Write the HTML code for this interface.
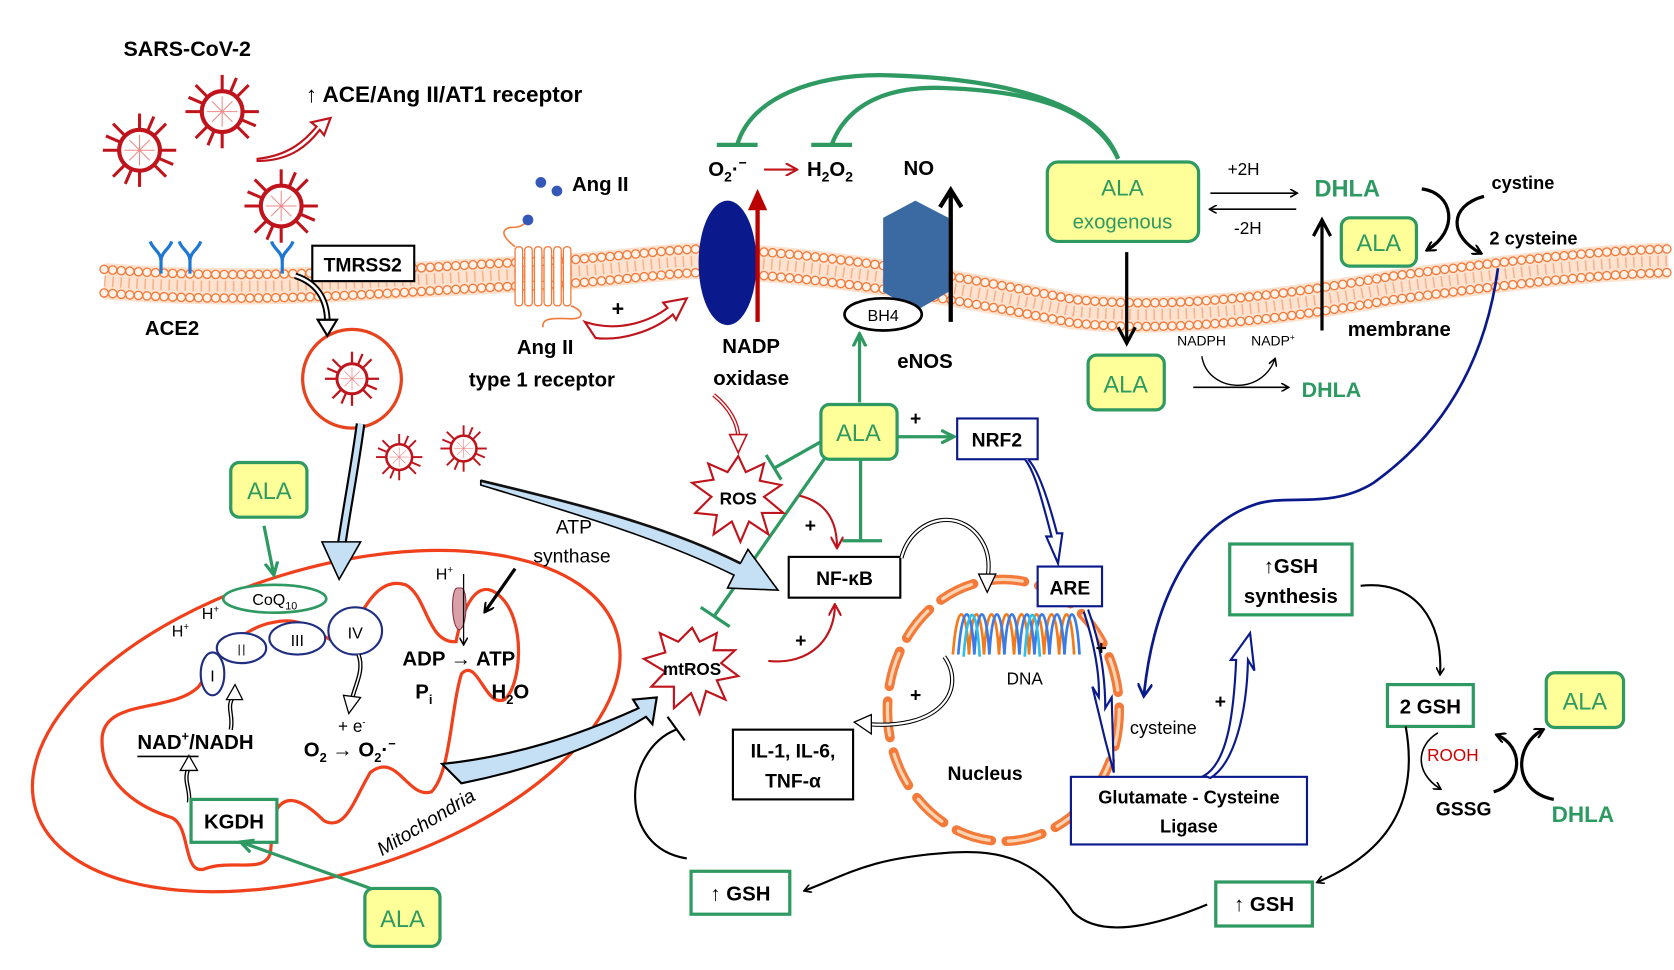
<!DOCTYPE html>
<html><head><meta charset="utf-8"><style>
html,body{margin:0;padding:0;background:#fff;}
svg{display:block;}
text{font-family:"Liberation Sans Narrow","Liberation Sans",sans-serif;}
.b{font-weight:bold;}
.g{fill:#2e9a62;font-weight:bold;}
</style></head><body>
<svg width="1674" height="970" viewBox="0 0 1560 904" xmlns="http://www.w3.org/2000/svg">
<defs>
<g id="vir">
<circle r="20" fill="#fff" stroke="#c0141c" stroke-width="4"/>
<g stroke="#c0141c" stroke-width="3">
<line x1="0" y1="-20" x2="0" y2="-36"/><line x1="0" y1="20" x2="0" y2="36"/>
<line x1="-20" y1="0" x2="-36" y2="0"/><line x1="20" y1="0" x2="36" y2="0"/>
<line x1="14" y1="14" x2="26" y2="26"/><line x1="-14" y1="-14" x2="-26" y2="-26"/>
<line x1="14" y1="-14" x2="26" y2="-26"/><line x1="-14" y1="14" x2="-26" y2="26"/>
<line x1="8" y1="-19" x2="14" y2="-33"/><line x1="-8" y1="19" x2="-14" y2="33"/>
<line x1="19" y1="8" x2="33" y2="14"/><line x1="-19" y1="-8" x2="-33" y2="-14"/>
</g>
<g stroke="#e88" stroke-width="1"><line x1="-15" y1="0" x2="15" y2="0"/><line x1="0" y1="-15" x2="0" y2="15"/><line x1="-10" y1="-10" x2="10" y2="10"/><line x1="-10" y1="10" x2="10" y2="-10"/></g>
</g>
<marker id="ab" markerWidth="10" markerHeight="10" refX="8" refY="5" orient="auto" markerUnits="userSpaceOnUse"><path d="M0,0 L9,5 L0,10" fill="none" stroke="#000" stroke-width="2"/></marker>
<marker id="abs" markerWidth="8" markerHeight="8" refX="6" refY="4" orient="auto" markerUnits="userSpaceOnUse"><path d="M0,0 L7,4 L0,8" fill="none" stroke="#000" stroke-width="1.5"/></marker>
<marker id="ag" markerWidth="14" markerHeight="14" refX="11" refY="7" orient="auto" markerUnits="userSpaceOnUse"><path d="M0,1 L12,7 L0,13" fill="none" stroke="#2e9a62" stroke-width="3"/></marker>
<marker id="ar" markerWidth="12" markerHeight="12" refX="10" refY="6" orient="auto" markerUnits="userSpaceOnUse"><path d="M0,0 L11,6 L0,12" fill="none" stroke="#c0141c" stroke-width="2"/></marker>
<marker id="abl" markerWidth="14" markerHeight="14" refX="11" refY="7" orient="auto" markerUnits="userSpaceOnUse"><path d="M0,0 L12,7 L0,14" fill="none" stroke="#0a1a8c" stroke-width="2.5"/></marker>
</defs>

<!-- membrane -->
<g fill="none">
<path d="M97,262 C250,275 400,258 500,255 C600,250 640,238 700,245 C800,252 900,270 1000,290 C1100,300 1200,285 1300,268 C1400,255 1480,245 1555,243" stroke="#fde2cf" stroke-width="34"/>
<path d="M97,262 C250,275 400,258 500,255 C600,250 640,238 700,245 C800,252 900,270 1000,290 C1100,300 1200,285 1300,268 C1400,255 1480,245 1555,243" stroke="#f5a070" stroke-width="10" stroke-dasharray="1.5 6" opacity="0.7"/>
<path d="M97,251 C250,264 400,247 500,244 C600,239 640,227 700,234 C800,241 900,259 1000,279 C1100,289 1200,274 1300,257 C1400,244 1480,234 1555,232" stroke="#f47a3a" stroke-width="9" stroke-linecap="round" stroke-dasharray="0 8"/>
<path d="M97,251 C250,264 400,247 500,244 C600,239 640,227 700,234 C800,241 900,259 1000,279 C1100,289 1200,274 1300,257 C1400,244 1480,234 1555,232" stroke="#fff3ea" stroke-width="6.5" stroke-linecap="round" stroke-dasharray="0 8"/>
<path d="M97,273 C250,286 400,269 500,266 C600,261 640,249 700,256 C800,263 900,281 1000,301 C1100,311 1200,296 1300,279 C1400,266 1480,256 1555,254" stroke="#f47a3a" stroke-width="9" stroke-linecap="round" stroke-dasharray="0 8"/>
<path d="M97,273 C250,286 400,269 500,266 C600,261 640,249 700,256 C800,263 900,281 1000,301 C1100,311 1200,296 1300,279 C1400,266 1480,256 1555,254" stroke="#fff3ea" stroke-width="6.5" stroke-linecap="round" stroke-dasharray="0 8"/>
</g>

<!-- viruses -->
<use href="#vir" transform="translate(130,140) scale(0.95)"/>
<use href="#vir" transform="translate(207,104) scale(0.95)"/>
<use href="#vir" transform="translate(262,192) scale(0.95)"/>
<circle cx="328" cy="353" r="46" fill="#fff" stroke="#e8431c" stroke-width="3"/>
<use href="#vir" transform="translate(328,353) scale(0.7)"/>
<use href="#vir" transform="translate(372,426) scale(0.6)"/>
<use href="#vir" transform="translate(432,418) scale(0.6)"/>

<text x="115" y="52" class="b" font-size="20">SARS-CoV-2</text>
<text x="285" y="95" class="b" font-size="21">↑ ACE/Ang II/AT1 receptor</text>
<path d="M240,148 C270,145 285,130 295,118 L290,114 L308,110 L302,126 L298,121 C288,134 272,150 240,150Z" fill="#fff" stroke="#c0141c" stroke-width="2"/>

<!-- ACE2 receptors -->
<g stroke="#1f77d4" stroke-width="3" fill="none">
<path d="M150,255 V243 M150,243 C150,235 142,232 140,225 M150,243 C150,235 158,232 160,225"/>
<path d="M177,255 V243 M177,243 C177,235 169,232 167,225 M177,243 C177,235 185,232 187,225"/>
<path d="M263,255 V243 M263,243 C263,235 255,232 253,225 M263,243 C263,235 271,232 273,225"/>
</g>
<rect x="291" y="229" width="95" height="33" fill="#fff" stroke="#000" stroke-width="2"/>
<text x="338" y="253" text-anchor="middle" class="b" font-size="18">TMRSS2</text>
<text x="135" y="312" class="b" font-size="19">ACE2</text>
<path d="M275,257 C300,265 305,285 305,300" fill="none" stroke="#000" stroke-width="6"/>
<path d="M275,257 C300,265 305,285 305,300" fill="none" stroke="#fff" stroke-width="2.5"/>
<path d="M296,298 L314,298 L305,313Z" fill="#fff" stroke="#000" stroke-width="2"/>

<!-- AT1 receptor -->
<g fill="#fff" stroke="#f47a3a" stroke-width="1.2">
<rect x="480" y="230" width="7" height="55" rx="3"/><rect x="489" y="230" width="7" height="55" rx="3"/><rect x="498" y="230" width="7" height="55" rx="3"/><rect x="507" y="230" width="7" height="55" rx="3"/><rect x="516" y="230" width="7" height="55" rx="3"/><rect x="525" y="230" width="7" height="55" rx="3"/>
</g>
<path d="M480,230 C470,222 465,215 475,212 C490,212 485,208 495,206 M532,285 C545,290 545,298 530,297 C510,296 505,298 506,305" fill="none" stroke="#f47a3a" stroke-width="1.5"/>
<circle cx="504" cy="170" r="5" fill="#3558b8"/><circle cx="519" cy="178" r="5" fill="#3558b8"/><circle cx="492" cy="205" r="5" fill="#3558b8"/>
<text x="533" y="178" class="b" font-size="19">Ang II</text>
<text x="508" y="330" text-anchor="middle" class="b" font-size="19">Ang II</text>
<text x="505" y="360" text-anchor="middle" class="b" font-size="19">type 1 receptor</text>
<text x="570" y="294" class="b" font-size="20">+</text>
<path d="M545,300 C575,310 605,300 622,287 L618,282 L640,278 L630,298 L627,293 C610,308 580,318 555,315Z" fill="#fff" stroke="#c0141c" stroke-width="2"/>

<!-- NADP oxidase -->
<ellipse cx="678" cy="245" rx="27" ry="58" fill="#0a1a8c"/>
<line x1="706" y1="300" x2="706" y2="192" stroke="#b00" stroke-width="4"/>
<path d="M697,196 L706,176 L715,196Z" fill="#b00"/>
<text x="700" y="329" text-anchor="middle" class="b" font-size="19">NADP</text>
<text x="700" y="359" text-anchor="middle" class="b" font-size="19">oxidase</text>
<text x="660" y="164" class="b" font-size="19">O<tspan font-size="13" dy="5">2</tspan><tspan dy="-5">·</tspan><tspan font-size="13" dy="-8">−</tspan></text>
<line x1="712" y1="158" x2="742" y2="158" stroke="#c0141c" stroke-width="2" marker-end="url(#ar)"/>
<text x="752" y="164" class="b" font-size="19">H<tspan font-size="13" dy="5">2</tspan><tspan dy="-5">O</tspan><tspan font-size="13" dy="5">2</tspan></text>
<g stroke="#2e9a62" stroke-width="4" fill="none">
<line x1="668" y1="135" x2="706" y2="135"/><line x1="756" y1="135" x2="794" y2="135"/>
<path d="M687,135 C700,90 760,70 820,70 C920,72 1020,90 1042,148"/>
<path d="M775,135 C790,95 830,80 880,82 C960,85 1020,100 1042,148"/>
</g>

<!-- eNOS -->
<text x="842" y="163" class="b" font-size="19">NO</text>
<path d="M823,203 L853,187 L884,203 L884,272 L853,290 L823,272Z" fill="#3b6aa3"/>
<line x1="886" y1="300" x2="886" y2="180" stroke="#000" stroke-width="4"/>
<path d="M876,193 L886,177 L896,193" fill="none" stroke="#000" stroke-width="4"/>
<ellipse cx="823" cy="293" rx="36" ry="15" fill="#fff" stroke="#000" stroke-width="2.5"/>
<text x="823" y="299" text-anchor="middle" font-size="15">BH4</text>
<text x="862" y="343" text-anchor="middle" class="b" font-size="19">eNOS</text>
<line x1="801" y1="375" x2="801" y2="312" stroke="#2e9a62" stroke-width="3" marker-end="url(#ag)"/>

<!-- ALA exogenous -->
<rect x="976" y="151" width="141" height="74" rx="10" fill="#ffff99" stroke="#2e9a62" stroke-width="3"/>
<text x="1046" y="182" text-anchor="middle" fill="#2e9a62" font-size="21">ALA</text>
<text x="1046" y="213" text-anchor="middle" fill="#2e9a62" font-size="19">exogenous</text>
<line x1="1128" y1="180" x2="1208" y2="180" stroke="#000" stroke-width="1.5" marker-end="url(#abs)"/>
<line x1="1208" y1="195" x2="1128" y2="195" stroke="#000" stroke-width="1.5" marker-end="url(#abs)"/>
<text x="1144" y="163" font-size="16">+2H</text>
<text x="1150" y="218" font-size="16">-2H</text>
<text x="1225" y="183" class="g" font-size="22">DHLA</text>
<line x1="1050" y1="235" x2="1050" y2="318" stroke="#000" stroke-width="3"/>
<path d="M1042,305 L1050,320 L1058,305" fill="none" stroke="#000" stroke-width="3"/>
<rect x="1014" y="331" width="71" height="51" rx="8" fill="#ffff99" stroke="#2e9a62" stroke-width="3"/>
<text x="1049" y="366" text-anchor="middle" fill="#2e9a62" font-size="22">ALA</text>
<text x="1097" y="322" font-size="13">NADPH</text>
<text x="1166" y="322" font-size="13">NADP<tspan font-size="8" dy="-5">+</tspan></text>
<path d="M1120,332 C1125,365 1175,370 1188,335" fill="none" stroke="#000" stroke-width="1.3" marker-end="url(#abs)"/>
<line x1="1112" y1="361" x2="1200" y2="361" stroke="#000" stroke-width="1.5" marker-end="url(#abs)"/>
<text x="1213" y="370" class="g" font-size="20">DHLA</text>
<line x1="1232" y1="308" x2="1232" y2="208" stroke="#000" stroke-width="3"/>
<path d="M1224,220 L1232,205 L1240,220" fill="none" stroke="#000" stroke-width="3"/>
<rect x="1250" y="203" width="70" height="45" rx="8" fill="#ffff99" stroke="#2e9a62" stroke-width="3"/>
<text x="1285" y="234" text-anchor="middle" fill="#2e9a62" font-size="22">ALA</text>
<path d="M1325,176 C1355,180 1360,215 1330,233" fill="none" stroke="#000" stroke-width="3" marker-end="url(#ab)"/>
<path d="M1383,183 C1350,192 1350,220 1380,236" fill="none" stroke="#000" stroke-width="3" marker-end="url(#ab)"/>
<text x="1390" y="176" class="b" font-size="17">cystine</text>
<text x="1388" y="228" class="b" font-size="17">2 cysteine</text>
<text x="1256" y="313" class="b" font-size="19">membrane</text>
<path d="M1396,250 C1385,330 1350,400 1280,450 C1240,475 1200,460 1170,470 C1110,490 1075,560 1066,648" fill="none" stroke="#0a1a8c" stroke-width="2.5" marker-end="url(#abl)"/>

<!-- central ALA -->
<line x1="836" y1="407" x2="888" y2="407" stroke="#2e9a62" stroke-width="3" marker-end="url(#ag)"/>
<text x="848" y="396" class="b" font-size="18">+</text>
<rect x="892" y="390" width="75" height="38" fill="#fff" stroke="#0a1a8c" stroke-width="2"/>
<text x="929" y="416" text-anchor="middle" class="b" font-size="18">NRF2</text>
<g stroke="#2e9a62" stroke-width="3" fill="none">
<line x1="768" y1="410" x2="722" y2="436"/><line x1="714" y1="424" x2="728" y2="447"/>
<line x1="770" y1="425" x2="665" y2="575"/><line x1="653" y1="566" x2="680" y2="584"/>
<line x1="802" y1="428" x2="802" y2="504"/><line x1="785" y1="504" x2="822" y2="504"/>
</g>
<rect x="765" y="377" width="71" height="51" rx="8" fill="#ffff99" stroke="#2e9a62" stroke-width="3"/>
<text x="800" y="411" text-anchor="middle" fill="#2e9a62" font-size="22">ALA</text>

<!-- ROS -->
<path d="M688,425 L695,440 L712,432 L708,448 L728,452 L712,463 L730,478 L710,478 L716,498 L698,486 L690,505 L682,486 L665,498 L668,480 L648,478 L663,463 L645,450 L665,447 L660,432 L678,440Z" fill="#fff" stroke="#c0141c" stroke-width="2"/>
<text x="688" y="470" text-anchor="middle" class="b" font-size="16">ROS</text>
<path d="M665,368 C680,380 688,395 688,408" fill="none" stroke="#c0141c" stroke-width="4"/>
<path d="M665,368 C680,380 688,395 688,408" fill="none" stroke="#fff" stroke-width="1.5"/>
<path d="M680,405 L696,405 L688,422Z" fill="#fff" stroke="#c0141c" stroke-width="1.5"/>
<path d="M745,462 C770,468 780,485 780,510" fill="none" stroke="#c0141c" stroke-width="2" marker-end="url(#ar)"/>
<text x="750" y="496" class="b" font-size="18">+</text>
<rect x="735" y="519" width="104" height="38" fill="#fff" stroke="#000" stroke-width="2"/>
<text x="787" y="545" text-anchor="middle" class="b" font-size="18">NF-κB</text>
<path d="M448,448 C540,470 620,490 690,525 L697,512 L725,550 L678,548 L684,536 C615,502 540,480 448,452Z" fill="#c5e0f5" stroke="#000" stroke-width="1.5"/>
<path d="M448,448 C540,470 620,490 690,525" fill="none" stroke="#111" stroke-width="2.5"/>

<!-- mtROS -->
<path d="M645,585 L652,598 L668,590 L665,606 L685,606 L672,618 L688,630 L668,634 L676,652 L658,644 L652,665 L644,646 L628,660 L628,640 L607,640 L620,626 L600,614 L620,608 L615,590 L632,598Z" fill="#fff" stroke="#c0141c" stroke-width="2"/>
<text x="645" y="629" text-anchor="middle" class="b" font-size="16">mtROS</text>
<path d="M716,616 C755,620 778,595 778,564" fill="none" stroke="#c0141c" stroke-width="2" marker-end="url(#ar)"/>
<text x="741" y="603" class="b" font-size="18">+</text>
<path d="M640,800 C575,790 580,700 630,680" fill="none" stroke="#000" stroke-width="2"/>
<line x1="622" y1="668" x2="638" y2="690" stroke="#000" stroke-width="2"/>

<!-- Mitochondria -->
<ellipse cx="304" cy="672" rx="283" ry="142" transform="rotate(-17 304 672)" fill="#fff" stroke="#f0401c" stroke-width="3"/>
<path d="M95,690 C95,650 160,665 185,640 C205,610 225,585 255,580 C290,572 300,600 318,598 C335,585 345,535 378,545 C398,555 398,600 425,598 C430,570 445,530 470,560 C490,585 485,640 470,652 C452,660 445,612 430,628 C420,660 420,720 402,738 C380,745 370,700 345,720 C330,745 322,775 302,765 C285,748 265,735 255,760 L252,795 C246,815 215,800 190,810 C170,815 178,770 160,762 C128,752 95,730 95,690Z" fill="#fff" stroke="#f0401c" stroke-width="3"/>
<text x="0" y="0" transform="translate(356,798) rotate(-31)" font-size="18" font-style="italic">Mitochondria</text>
<path d="M412,712 C480,705 540,685 595,660 L590,652 L612,650 L608,675 L602,668 C550,700 480,720 430,730Z" fill="#c5e0f5" stroke="#000" stroke-width="2"/>
<ellipse cx="256" cy="558" rx="48" ry="13" fill="#fff" stroke="#2e9a62" stroke-width="2.5"/>
<text x="235" y="564" font-size="15">CoQ<tspan font-size="10" dy="4">10</tspan></text>
<g fill="#fff" stroke="#1f2e80" stroke-width="2">
<ellipse cx="198" cy="628" rx="11" ry="20"/><ellipse cx="225" cy="604" rx="23" ry="14"/><ellipse cx="277" cy="595" rx="26" ry="15"/><ellipse cx="331" cy="588" rx="25" ry="22"/>
</g>
<text x="198" y="635" text-anchor="middle" font-size="15">I</text>
<text x="225" y="611" text-anchor="middle" font-size="15" fill="#555">II</text>
<text x="277" y="602" text-anchor="middle" font-size="15">III</text>
<text x="331" y="595" text-anchor="middle" font-size="15">IV</text>
<text x="160" y="593" font-size="15">H<tspan font-size="9" dy="-6">+</tspan></text>
<text x="188" y="577" font-size="15">H<tspan font-size="9" dy="-6">+</tspan></text>
<line x1="246" y1="490" x2="255" y2="535" stroke="#2e9a62" stroke-width="3" marker-end="url(#ag)"/>
<rect x="215" y="431" width="71" height="51" rx="8" fill="#ffff99" stroke="#2e9a62" stroke-width="3"/>
<text x="251" y="465" text-anchor="middle" fill="#2e9a62" font-size="22">ALA</text>
<path d="M336,395 C330,440 322,480 318,510" fill="none" stroke="#000" stroke-width="9"/>
<path d="M336,395 C330,440 322,480 318,510" fill="none" stroke="#c5e0f5" stroke-width="5"/>
<path d="M300,505 L336,505 L316,540Z" fill="#c5e0f5" stroke="#000" stroke-width="1.5"/>
<text x="128" y="698" class="b" font-size="19">NAD<tspan font-size="12" dy="-8">+</tspan><tspan dy="8">/NADH</tspan></text>
<line x1="128" y1="705" x2="185" y2="705" stroke="#000" stroke-width="1.5"/>
<path d="M215,680 C218,665 210,660 218,648" fill="none" stroke="#000" stroke-width="4"/><path d="M215,680 C218,665 210,660 218,648" fill="none" stroke="#fff" stroke-width="1.5"/>
<path d="M211,652 L219,638 L226,652Z" fill="#fff" stroke="#000" stroke-width="1.2"/>
<path d="M176,748 C178,735 170,728 176,715" fill="none" stroke="#000" stroke-width="4"/><path d="M176,748 C178,735 170,728 176,715" fill="none" stroke="#fff" stroke-width="1.5"/>
<path d="M168,718 L176,704 L184,718Z" fill="#fff" stroke="#000" stroke-width="1.2"/>
<path d="M334,610 C340,625 330,640 328,652" fill="none" stroke="#000" stroke-width="4"/><path d="M334,610 C340,625 330,640 328,652" fill="none" stroke="#fff" stroke-width="1.5"/>
<path d="M320,648 L336,650 L325,665Z" fill="#fff" stroke="#000" stroke-width="1.2"/>
<text x="315" y="682" font-size="16">+ e<tspan font-size="9" dy="-6">-</tspan></text>
<text x="283" y="705" class="b" font-size="19">O<tspan font-size="12" dy="5">2</tspan><tspan dy="-5"> → O</tspan><tspan font-size="12" dy="5">2</tspan><tspan dy="-5">·</tspan><tspan font-size="12" dy="-8">−</tspan></text>
<path d="M426,548 C420,548 420,585 428,587 C436,585 436,548 430,548Z" fill="#d9a0a8" stroke="#8a3040" stroke-width="1"/>
<line x1="432" y1="535" x2="432" y2="600" stroke="#000" stroke-width="1.2" marker-end="url(#abs)"/>
<text x="406" y="540" font-size="15">H<tspan font-size="9" dy="-6">+</tspan></text>
<line x1="480" y1="530" x2="452" y2="570" stroke="#000" stroke-width="3" marker-end="url(#ab)"/>
<text x="518" y="497" font-size="18">ATP</text>
<text x="497" y="524" font-size="18">synthase</text>
<text x="375" y="620" class="b" font-size="19">ADP → ATP</text>
<text x="387" y="651" class="b" font-size="19">P<tspan font-size="12" dy="5">i</tspan></text>
<text x="458" y="651" class="b" font-size="19">H<tspan font-size="12" dy="5">2</tspan><tspan dy="-5">O</tspan></text>
<rect x="178" y="745" width="80" height="40" fill="#fff" stroke="#2e9a62" stroke-width="3"/>
<text x="218" y="772" text-anchor="middle" class="b" font-size="19">KGDH</text>
<line x1="365" y1="835" x2="225" y2="785" stroke="#2e9a62" stroke-width="3" marker-end="url(#ag)"/>
<rect x="340" y="828" width="70" height="54" rx="8" fill="#ffff99" stroke="#2e9a62" stroke-width="3"/>
<text x="375" y="864" text-anchor="middle" fill="#2e9a62" font-size="22">ALA</text>

<!-- Nucleus -->
<ellipse cx="935" cy="662" rx="108" ry="122" fill="none" stroke="#f47a3a" stroke-width="9" stroke-dasharray="34 14" stroke-linecap="round"/>
<ellipse cx="935" cy="662" rx="108" ry="122" fill="none" stroke="#fbd4b4" stroke-width="3" stroke-dasharray="30 18" stroke-linecap="round" stroke-dashoffset="-2"/>
<g fill="none" stroke-width="2.5">
<path d="M888,610 C892,560 900,560 903,610 C906,560 914,560 917,610 C920,560 928,560 931,610 C934,560 942,560 945,610 C948,560 956,560 959,610 C962,560 970,560 973,610 C976,560 984,560 987,610 C990,560 998,560 1001,610" stroke="#f47a1a"/>
<path d="M893,610 C897,560 905,560 908,610 C911,560 919,560 922,610 C925,560 933,560 936,610 C939,560 947,560 950,610 C953,560 961,560 964,610 C967,560 975,560 978,610 C981,560 989,560 992,610 C995,560 1003,560 1006,610" stroke="#3a7be8"/>
<path d="M898,612 C902,560 910,560 913,612 M955,612 C958,560 966,560 969,612" stroke="#2ec0e8"/>
</g>
<text x="955" y="638" text-anchor="middle" font-size="16">DNA</text>
<text x="918" y="727" text-anchor="middle" class="b" font-size="18">Nucleus</text>
<path d="M840,520 C850,480 900,470 918,510 C922,520 922,530 920,540" fill="none" stroke="#000" stroke-width="4"/>
<path d="M840,520 C850,480 900,470 918,510 C922,520 922,530 920,540" fill="none" stroke="#fff" stroke-width="2"/>
<path d="M912,535 L928,535 L920,552Z" fill="#fff" stroke="#000" stroke-width="1.2"/>
<path d="M880,612 C900,640 880,680 810,675" fill="none" stroke="#000" stroke-width="4"/>
<path d="M880,612 C900,640 880,680 810,675" fill="none" stroke="#fff" stroke-width="2"/>
<path d="M812,666 L796,673 L812,684Z" fill="#fff" stroke="#000" stroke-width="1.2"/>
<text x="848" y="654" class="b" font-size="18">+</text>
<rect x="683" y="680" width="112" height="65" fill="#fff" stroke="#000" stroke-width="2"/>
<text x="739" y="706" text-anchor="middle" class="b" font-size="18">IL-1, IL-6,</text>
<text x="739" y="734" text-anchor="middle" class="b" font-size="18">TNF-α</text>
<rect x="967" y="528" width="60" height="37" fill="#fff" stroke="#0a1a8c" stroke-width="2"/>
<text x="997" y="554" text-anchor="middle" class="b" font-size="18">ARE</text>
<path d="M955,428 C965,440 972,470 980,500 L975,500 L986,525 L990,497 L985,497 C978,470 968,438 958,428" fill="#fff" stroke="#0a1a8c" stroke-width="2"/>
<path d="M1010,570 C1020,600 1025,630 1024,650 L1018,640 L1030,690 L1038,720 L1036,650 L1030,660 C1030,620 1022,590 1014,568" fill="#fff" stroke="#0a1a8c" stroke-width="2"/>
<text x="1021" y="610" class="b" font-size="18">+</text>
<text x="1053" y="684" font-size="17">cysteine</text>
<rect x="998" y="724" width="220" height="63" fill="#fff" stroke="#0a1a8c" stroke-width="2"/>
<text x="1108" y="749" text-anchor="middle" class="b" font-size="17">Glutamate - Cysteine</text>
<text x="1108" y="776" text-anchor="middle" class="b" font-size="17">Ligase</text>
<path d="M1122,723 C1145,710 1150,660 1152,615 L1147,615 L1165,590 L1169,625 L1163,615 C1162,665 1150,712 1128,725Z" fill="#fff" stroke="#0a1a8c" stroke-width="2"/>
<text x="1132" y="660" class="b" font-size="18">+</text>
<rect x="1146" y="507" width="114" height="66" fill="#fff" stroke="#2e9a62" stroke-width="3"/>
<text x="1203" y="534" text-anchor="middle" class="b" font-size="19">↑GSH</text>
<text x="1203" y="562" text-anchor="middle" class="b" font-size="19">synthesis</text>
<path d="M1268,546 C1320,540 1345,580 1342,628" fill="none" stroke="#000" stroke-width="2" marker-end="url(#abs)"/>
<rect x="1293" y="638" width="80" height="39" fill="#fff" stroke="#2e9a62" stroke-width="3"/>
<text x="1333" y="665" text-anchor="middle" class="b" font-size="19">2 GSH</text>
<rect x="1441" y="627" width="72" height="51" rx="8" fill="#ffff99" stroke="#2e9a62" stroke-width="3"/>
<text x="1477" y="661" text-anchor="middle" fill="#2e9a62" font-size="22">ALA</text>
<path d="M1340,683 C1320,695 1318,720 1342,735" fill="none" stroke="#000" stroke-width="1.5" marker-end="url(#abs)"/>
<text x="1330" y="709" fill="#c00" font-size="16">ROOH</text>
<path d="M1392,738 C1420,730 1420,695 1395,685" fill="none" stroke="#000" stroke-width="3" marker-end="url(#ab)"/>
<path d="M1448,745 C1410,738 1410,695 1438,680" fill="none" stroke="#000" stroke-width="3" marker-end="url(#ab)"/>
<text x="1338" y="760" class="b" font-size="18">GSSG</text>
<text x="1446" y="766" class="g" font-size="21">DHLA</text>
<path d="M1310,677 C1325,760 1280,800 1228,822" fill="none" stroke="#000" stroke-width="2" marker-end="url(#abs)"/>
<rect x="1133" y="822" width="90" height="41" fill="#fff" stroke="#2e9a62" stroke-width="3"/>
<text x="1178" y="849" text-anchor="middle" class="b" font-size="19">↑ GSH</text>
<path d="M1125,843 C1060,870 1020,870 1000,850 C970,805 940,790 880,795 C810,800 790,815 750,830" fill="none" stroke="#000" stroke-width="2" marker-end="url(#abs)"/>
<rect x="644" y="812" width="92" height="40" fill="#fff" stroke="#2e9a62" stroke-width="3"/>
<text x="690" y="839" text-anchor="middle" class="b" font-size="19">↑ GSH</text>
</svg>
</body></html>
